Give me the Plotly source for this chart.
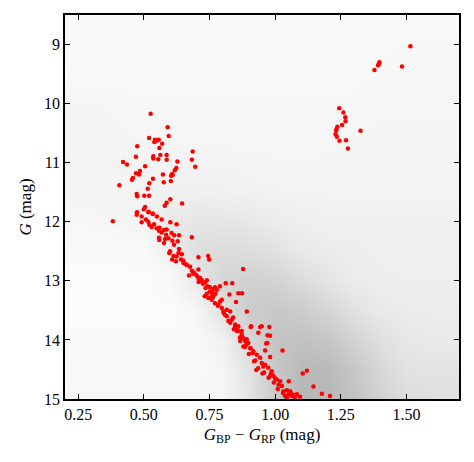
import plotly.graph_objects as go

# --- Member stars (red) ---
red_x = [1.515, 1.397, 1.395, 1.392, 1.378, 1.483,
         1.244, 1.260, 1.267, 1.268, 1.255, 1.237, 1.234, 1.232, 1.230, 1.235, 1.245, 1.270, 1.277, 1.325,
         0.526, 0.591, 0.595, 0.520, 0.543, 0.549, 0.557, 0.540, 0.570, 0.559, 0.475, 0.563, 0.536, 0.536,
         0.555, 0.587, 0.587, 0.470, 0.686, 0.683, 0.696, 0.628, 0.624, 0.618, 0.608, 0.604, 0.610, 0.421,
         0.436, 0.505, 0.485, 0.470, 0.482, 0.459, 0.455, 0.573, 0.535, 0.521, 0.576, 0.603, 0.515, 0.407,
         0.473, 0.475, 0.502, 0.520, 0.601, 0.587, 0.580, 0.646, 0.505, 0.500, 0.519, 0.474, 0.534,
         0.382, 0.473, 0.492, 0.517, 0.534, 0.550, 0.568, 0.492, 0.508, 0.517, 0.521, 0.530, 0.539, 0.549,
         0.558, 0.568, 0.577, 0.587, 0.601, 0.625, 0.606, 0.634, 0.616, 0.558, 0.559, 0.581, 0.577, 0.594,
         0.609, 0.629, 0.683, 0.615, 0.634, 0.600, 0.597, 0.613, 0.625, 0.632, 0.642, 0.608, 0.622, 0.651,
         0.664, 0.651, 0.708, 0.745, 0.749, 0.676, 0.683, 0.688, 0.672, 0.709, 0.709, 0.721, 0.733, 0.740,
         0.742, 0.752, 0.765, 0.778, 0.773, 0.740, 0.759, 0.732,
         0.878, 0.812, 0.837, 0.826, 0.860, 0.874, 0.851, 0.790, 0.771, 0.752, 0.746, 0.759, 0.771, 0.784,
         0.797, 0.797, 0.803, 0.816, 0.829, 0.816, 0.835, 0.829, 0.848, 0.860, 0.854, 0.873, 0.873, 0.879,
         0.892, 0.892, 0.907, 0.943, 0.978, 0.936, 0.971, 0.981, 0.966, 0.907, 0.708,
         0.909, 0.949, 0.970, 1.028, 0.962, 0.981, 0.928, 0.952, 1.121, 1.105, 1.052, 1.146, 1.178, 1.209,
         0.848, 0.860, 0.873, 0.886, 0.898, 0.905, 0.917, 0.930, 0.943, 0.949, 0.962, 0.974, 0.987, 0.994,
         1.006, 1.019, 1.026, 1.032, 1.038, 1.051, 1.064, 1.083, 1.095, 1.057, 0.879, 0.867, 0.981, 1.013,
         0.700, 0.715, 0.725, 0.760, 0.790, 0.805, 0.840, 0.855, 0.890, 0.915, 0.925, 0.955, 0.985, 1.000,
         1.045, 1.070, 0.660, 0.645, 0.585, 0.560,
         0.690, 0.705, 0.718, 0.735, 0.765, 0.782, 0.810, 0.822, 0.843, 0.866, 0.885, 0.900, 0.920, 0.935,
         0.958, 0.975, 0.995, 1.010, 1.030, 1.045, 1.060, 1.075]
red_y = [9.03, 9.30, 9.33, 9.35, 9.43, 9.37,
         10.08, 10.15, 10.23, 10.30, 10.36, 10.39, 10.43, 10.46, 10.52, 10.56, 10.63, 10.62, 10.76, 10.46,
         10.17, 10.40, 10.55, 10.58, 10.61, 10.63, 10.61, 10.65, 10.68, 10.75, 10.72, 10.87, 10.89, 10.93,
         10.94, 10.87, 10.95, 10.90, 10.81, 10.95, 11.07, 10.98, 11.09, 11.13, 11.19, 11.22, 11.21, 10.99,
         11.03, 11.06, 11.14, 11.18, 11.20, 11.26, 11.29, 11.20, 11.27, 11.35, 11.33, 11.31, 11.44, 11.38,
         11.53, 11.57, 11.56, 11.56, 11.62, 11.68, 11.73, 11.69, 11.75, 11.79, 11.83, 11.84, 11.86,
         11.99, 11.88, 11.91, 11.84, 11.87, 11.91, 11.96, 12.01, 11.96, 12.00, 12.05, 12.09, 12.04, 12.11,
         12.15, 12.18, 12.14, 12.13, 12.01, 12.04, 12.19, 12.23, 12.23, 12.27, 12.31, 12.29, 12.36, 12.28,
         12.32, 12.33, 12.26, 12.39, 12.46, 12.50, 12.53, 12.58, 12.59, 12.53, 12.64, 12.64, 12.67, 12.70,
         12.73, 12.66, 12.60, 12.58, 12.64, 12.76, 12.83, 12.88, 12.91, 12.97, 13.02, 12.99, 13.03, 12.99,
         13.09, 13.18, 13.14, 13.15, 13.22, 13.22, 13.26, 13.26,
         12.80, 13.04, 13.04, 13.23, 13.21, 13.21, 13.36, 13.09, 13.11, 13.11, 13.29, 13.32, 13.38, 13.40,
         13.32, 13.46, 13.52, 13.49, 13.52, 13.60, 13.66, 13.71, 13.74, 13.77, 13.85, 13.85, 13.91, 13.97,
         13.99, 13.52, 13.78, 13.78, 13.78, 13.88, 13.92, 13.93, 14.06, 14.14, 12.81,
         13.77, 13.77, 14.05, 14.18, 14.18, 14.29, 14.51, 14.57, 14.52, 14.57, 14.70, 14.79, 14.91, 14.95,
         13.77, 13.85, 13.94, 14.02, 14.05, 14.14, 14.19, 14.25, 14.30, 14.39, 14.42, 14.47, 14.53, 14.61,
         14.67, 14.70, 14.78, 14.87, 14.95, 14.92, 14.95, 14.92, 14.96, 14.87, 14.11, 14.02, 14.61, 14.76,
         12.90, 12.95, 13.05, 13.20, 13.35, 13.55, 13.62, 13.80, 14.08, 14.22, 14.35, 14.45, 14.57, 14.65,
         14.85, 14.93, 12.72, 12.55, 12.22, 12.10,
         12.86, 12.93, 13.00, 13.12, 13.27, 13.42, 13.58, 13.68, 13.82, 13.96, 14.12, 14.24, 14.36, 14.48,
         14.55, 14.64, 14.72, 14.83, 14.90, 14.97, 14.90, 14.97]

# --- Field-star density (estimated gray level, 0 = white) ---
grid_x = [0.2, 0.3, 0.4, 0.5, 0.6, 0.7, 0.8, 0.9, 1.0, 1.1, 1.2, 1.3, 1.4, 1.5, 1.6, 1.7]
grid_y = [8.5, 9.0, 9.5, 10.0, 10.5, 11.0, 11.5, 12.0, 12.5, 13.0, 13.5, 14.0, 14.5, 15.0]
density = [
    [0.05, 0.05, 0.05, 0.05, 0.05, 0.05, 0.05, 0.05, 0.05, 0.05, 0.05, 0.05, 0.05, 0.05, 0.05, 0.05],
    [0.05, 0.05, 0.05, 0.05, 0.05, 0.05, 0.05, 0.05, 0.05, 0.05, 0.05, 0.06, 0.07, 0.08, 0.08, 0.08],
    [0.06, 0.06, 0.06, 0.06, 0.06, 0.06, 0.06, 0.06, 0.06, 0.06, 0.06, 0.07, 0.08, 0.08, 0.08, 0.08],
    [0.10, 0.10, 0.09, 0.08, 0.08, 0.08, 0.08, 0.08, 0.08, 0.08, 0.08, 0.08, 0.09, 0.09, 0.09, 0.09],
    [0.11, 0.11, 0.10, 0.09, 0.09, 0.08, 0.08, 0.08, 0.08, 0.08, 0.09, 0.10, 0.10, 0.10, 0.10, 0.10],
    [0.12, 0.12, 0.12, 0.12, 0.12, 0.12, 0.12, 0.11, 0.10, 0.10, 0.10, 0.10, 0.11, 0.11, 0.11, 0.11],
    [0.10, 0.12, 0.12, 0.12, 0.15, 0.16, 0.15, 0.14, 0.13, 0.12, 0.12, 0.12, 0.12, 0.12, 0.12, 0.12],
    [0.08, 0.08, 0.10, 0.12, 0.22, 0.26, 0.26, 0.24, 0.20, 0.17, 0.15, 0.15, 0.15, 0.15, 0.15, 0.15],
    [0.05, 0.05, 0.05, 0.06, 0.15, 0.33, 0.36, 0.35, 0.30, 0.23, 0.20, 0.18, 0.16, 0.15, 0.15, 0.15],
    [0.04, 0.04, 0.04, 0.04, 0.07, 0.22, 0.42, 0.47, 0.45, 0.36, 0.27, 0.20, 0.18, 0.17, 0.17, 0.17],
    [0.04, 0.04, 0.04, 0.04, 0.04, 0.09, 0.32, 0.52, 0.56, 0.52, 0.42, 0.30, 0.22, 0.20, 0.19, 0.19],
    [0.05, 0.05, 0.05, 0.05, 0.05, 0.06, 0.14, 0.40, 0.60, 0.62, 0.58, 0.45, 0.32, 0.24, 0.22, 0.22],
    [0.06, 0.06, 0.06, 0.06, 0.06, 0.06, 0.10, 0.30, 0.56, 0.70, 0.70, 0.56, 0.40, 0.30, 0.28, 0.28],
    [0.08, 0.08, 0.08, 0.08, 0.08, 0.08, 0.10, 0.26, 0.55, 0.72, 0.72, 0.62, 0.46, 0.35, 0.32, 0.32],
]

x_ticks = [0.25, 0.50, 0.75, 1.00, 1.25, 1.50]
x_tick_text = ["0.25", "0.50", "0.75", "1.00", "1.25", "1.50"]
y_ticks = [9, 10, 11, 12, 13, 14, 15]

FONT = "Liberation Serif"

fig = go.Figure()
fig.add_trace(go.Heatmap(
    x=grid_x, y=grid_y, z=density, zmin=0, zmax=1, zsmooth="best",
    colorscale=[[0, "#ffffff"], [1, "#9c9c9c"]], showscale=False, hoverinfo="skip",
))
fig.add_trace(go.Scatter(
    x=red_x, y=red_y, mode="markers",
    marker=dict(color="#ff0000", size=4.5, line=dict(width=0)),
    showlegend=False,
))

axis_common = dict(
    showgrid=False, zeroline=False, showline=True, linecolor="black", linewidth=1.5,
    mirror="allticks", ticks="inside", ticklen=5, tickwidth=1, tickcolor="black",
    tickfont=dict(family=FONT, size=16, color="black"),
)
fig.update_xaxes(
    range=[0.2, 1.7], tickvals=x_ticks, ticktext=x_tick_text,
    title=dict(text="<i>G</i><sub>BP</sub> − <i>G</i><sub>RP</sub> (mag)",
               font=dict(family=FONT, size=17, color="black"), standoff=6),
    **axis_common,
)
fig.update_yaxes(
    range=[15, 8.5], tickvals=y_ticks,
    title=dict(text="<i>G</i> (mag)", font=dict(family=FONT, size=17, color="black"), standoff=8),
    **axis_common,
)
fig.update_layout(
    width=474, height=462,
    margin=dict(l=65, r=15, t=15, b=63),
    plot_bgcolor="white", paper_bgcolor="white",
    font=dict(family=FONT, color="black"),
)
fig.write_html("out.html")
